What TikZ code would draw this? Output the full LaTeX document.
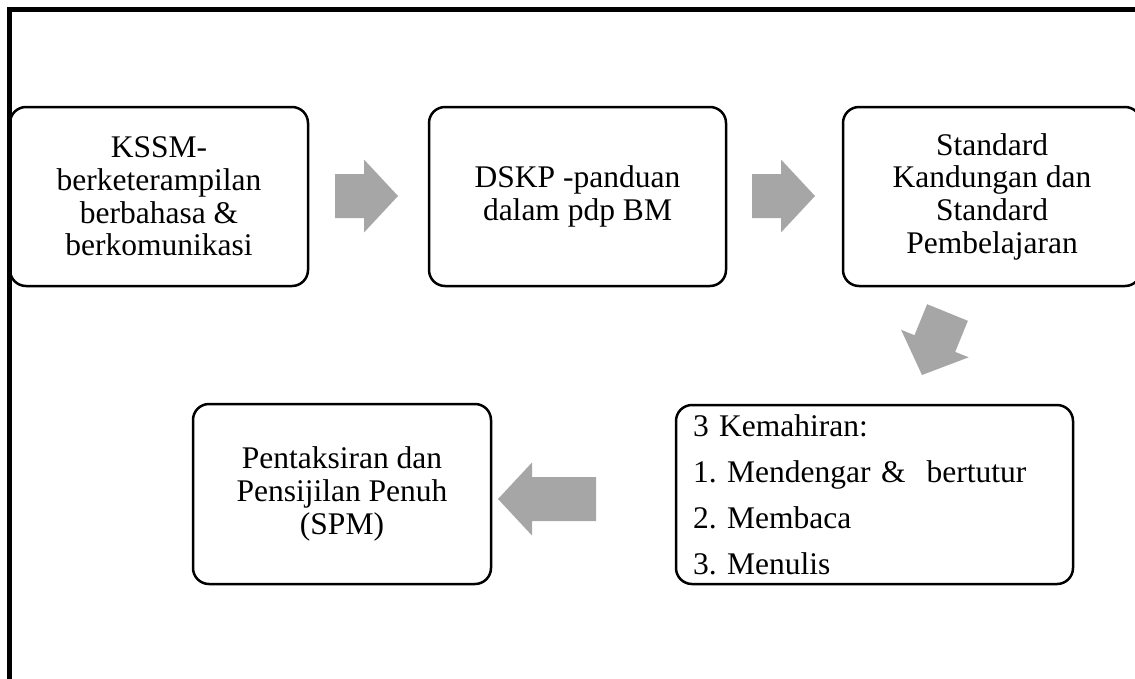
\documentclass[tikz,border=0pt]{standalone}
\usepackage{fontspec}
\setmainfont{Liberation Serif}
\definecolor{arrowgray}{RGB}{166,166,166}
\begin{document}
\frenchspacing
\begin{tikzpicture}[x=1pt,y=-1pt,
  box/.style={draw=black, line width=2.5pt, rounded corners=16pt, minimum width=298pt,
    minimum height=179pt, inner sep=0pt, align=center, font=\fontsize{31.5}{32.7}\selectfont}]
\useasboundingbox (0,0) rectangle (1135,678);
\clip (0,0) rectangle (1135,678);
\draw[line width=5pt] (9.8,700) -- (9.8,9.5) -- (1150,9.5);
\node[box] (kssm) at (159,196.5) {KSSM-\\berketerampilan\\berbahasa \&\\berkomunikasi};
\node[box, minimum width=297pt] (dskp) at (577.5,196.5) {DSKP -panduan\\dalam pdp BM};
\node[box] (standard) at (992,196.5) {Standard\\Kandungan dan\\Standard\\Pembelajaran};
\node[box, text width=363pt, inner xsep=17pt, align=left, font=\fontsize{31.5}{46}\selectfont]
    (kemahiran) at (874.5,494.5) {3 Kemahiran:\\1. Mendengar \&~ bertutur\\2. Membaca\\3. Menulis};
\node[box, minimum height=180pt] (spm) at (342,494) {Pentaksiran dan\\Pensijilan Penuh\\(SPM)};
\foreach \x/\y/\a/\l in {366.5/196/0/63, 783.5/196/0/63, 934.75/343.75/247.8/67.5, 547/499/180/98}
  \fill[arrowgray, shift={(\x,\y)}, rotate=\a]
    ({-\l/2},-22) -- ({\l/2-34},-22) -- ({\l/2-34},-36.5) -- ({\l/2},0)
    -- ({\l/2-34},36.5) -- ({\l/2-34},22) -- ({-\l/2},22) -- cycle;
\end{tikzpicture}
\end{document}
